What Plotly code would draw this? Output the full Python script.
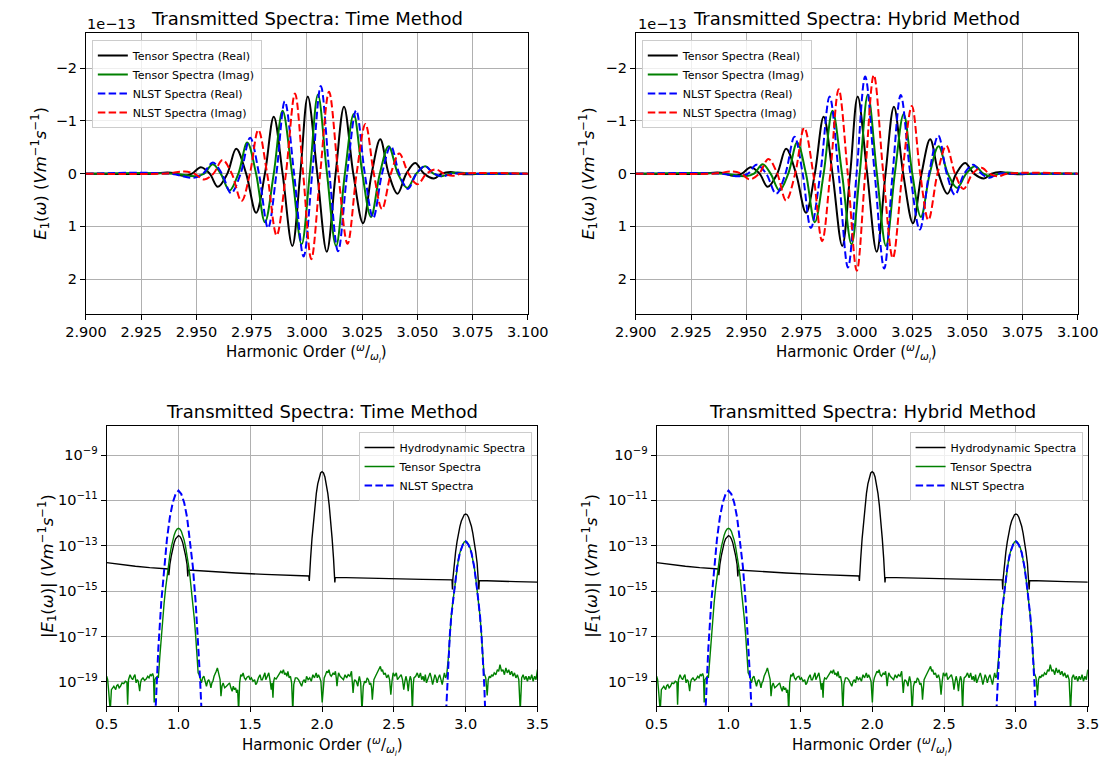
import plotly.graph_objects as go

# ---------------- Top panels: complex spectra near 3rd harmonic (units of 1e-13) -------------
OFFSET_TEXT = "1e\u221213"

tensor_re_x = [2.900, 2.930, 2.937, 2.9405, 2.944, 2.948, 2.952, 2.956, 2.9597, 2.964,
               2.968, 2.9725, 2.977, 2.981, 2.985, 2.989, 2.9934, 2.997, 3.0004, 3.0047,
               3.009, 3.013, 3.0168, 3.021, 3.0254, 3.0293, 3.0332, 3.037, 3.041, 3.045,
               3.049, 3.053, 3.0575, 3.061, 3.065, 3.069, 3.073, 3.080, 3.100]
tensor_re_y = [0, 0, -0.02, 0, 0.04, 0, -0.12, 0, 0.25, 0,
               -0.47, 0, 0.74, 0, -1.08, 0, 1.37, 0, -1.46, 0,
               1.48, 0, -1.27, 0, 0.94, 0, -0.65, 0, 0.38, 0,
               -0.20, 0, 0.09, 0, -0.03, 0, 0.01, 0, 0]

tensor_im_x = [2.900, 2.940, 2.9495, 2.9535, 2.9574, 2.961, 2.965, 2.969, 2.973, 2.977,
               2.981, 2.985, 2.989, 2.9933, 2.9976, 3.0013, 3.005, 3.0091, 3.0132, 3.0172,
               3.0212, 3.0251, 3.029, 3.033, 3.037, 3.0412, 3.0454, 3.0495, 3.0535, 3.0573,
               3.061, 3.0645, 3.068, 3.075, 3.100]
tensor_im_y = [0, 0, 0.05, 0, -0.18, 0, 0.32, 0, -0.59, 0,
               0.92, 0, -1.19, 0, 1.34, 0, -1.50, 0, 1.37, 0,
               -1.13, 0, 0.82, 0, -0.52, 0, 0.27, 0, -0.14, 0,
               0.05, 0, -0.02, 0, 0]

nlst_re_time_x = [2.900, 2.938, 2.9488, 2.953, 2.9574, 2.9615, 2.9657, 2.970, 2.9743, 2.9783,
                  2.9824, 2.9862, 2.990, 2.9942, 2.9985, 3.0024, 3.0063, 3.0102, 3.0141, 3.0182,
                  3.0223, 3.0262, 3.030, 3.034, 3.038, 3.0418, 3.0457, 3.0496, 3.0535, 3.0575,
                  3.0614, 3.066, 3.075, 3.100]
nlst_re_time_y = [0, 0, 0.08, 0, -0.21, 0, 0.37, 0, -0.68, 0,
                  1.03, 0, -1.37, 0, 1.57, 0, -1.66, 0, 1.47, 0,
                  -1.20, 0, 0.84, 0, -0.52, 0, 0.29, 0, -0.14, 0,
                  0.05, 0, 0, 0]

nlst_im_time_x = [2.900, 2.935, 2.9445, 2.949, 2.9535, 2.9577, 2.9618, 2.966, 2.9704, 2.9742,
                  2.978, 2.982, 2.9863, 2.9905, 2.9946, 2.9983, 3.002, 3.006, 3.010, 3.0142,
                  3.0184, 3.0225, 3.0265, 3.0303, 3.034, 3.038, 3.0418, 3.046, 3.050, 3.0542,
                  3.0583, 3.062, 3.066, 3.070, 3.100]
nlst_im_time_y = [0, 0, -0.04, 0, 0.11, 0, -0.26, 0, 0.52, 0,
                  -0.83, 0, 1.17, 0, -1.52, 0, 1.62, 0, -1.55, 0,
                  1.33, 0, -0.94, 0, 0.67, 0, -0.38, 0, 0.20, 0,
                  -0.08, 0, 0.04, 0, 0]

nlst_re_hyb_x = [2.900, 2.938, 2.9468, 2.9507, 2.9546, 2.959, 2.9635, 2.9677, 2.9718, 2.9755,
                 2.9792, 2.9835, 2.9877, 2.9918, 2.996, 2.9999, 3.0038, 3.0081, 3.0124, 3.0162,
                 3.0199, 3.0242, 3.0285, 3.0327, 3.0369, 3.0407, 3.0444, 3.0486, 3.0527, 3.0564,
                 3.060, 3.064, 3.072, 3.100]
nlst_re_hyb_y = [0, 0, 0.05, 0, -0.17, 0, 0.38, 0, -0.70, 0,
                 1.03, 0, -1.46, 0, 1.78, 0, -1.84, 0, 1.80, 0,
                 -1.49, 0, 1.06, 0, -0.72, 0, 0.40, 0, -0.17, 0,
                 0.08, 0, 0, 0]

nlst_im_hyb_x = [2.900, 2.935, 2.944, 2.9478, 2.9515, 2.9558, 2.960, 2.964, 2.968, 2.9721,
                 2.9762, 2.9803, 2.9843, 2.988, 2.9918, 2.9959, 3.000, 3.0038, 3.0077, 3.012,
                 3.0163, 3.0206, 3.0249, 3.0287, 3.0324, 3.0365, 3.0405, 3.0444, 3.0483, 3.0524,
                 3.0564, 3.060, 3.064, 3.068, 3.100]
nlst_im_hyb_y = [0, 0, -0.04, 0, 0.11, 0, -0.28, 0, 0.51, 0,
                 -0.87, 0, 1.28, 0, -1.60, 0, 1.84, 0, -1.87, 0,
                 1.60, 0, -1.28, 0, 0.88, 0, -0.53, 0, 0.29, 0,
                 -0.11, 0, 0.05, 0, 0]

# ---------------- Bottom panels: |E1| (log10 values) -----------------------------------------
hydro_x = [0.50, 0.60, 0.70, 0.80, 0.90, 0.931, 0.933, 0.935, 0.94, 0.95,
           0.96, 0.97, 0.98, 0.99, 1.00, 1.01, 1.02, 1.03, 1.04, 1.05,
           1.06, 1.063, 1.065, 1.068, 1.20, 1.40, 1.60, 1.80, 1.908, 1.911,
           1.913, 1.92, 1.93, 1.94, 1.95, 1.96, 1.97, 1.98, 1.99, 2.00,
           2.01, 2.02, 2.03, 2.04, 2.05, 2.06, 2.07, 2.08, 2.086, 2.089,
           2.092, 2.30, 2.50, 2.70, 2.905, 2.908, 2.911, 2.92, 2.93, 2.94,
           2.95, 2.96, 2.97, 2.98, 2.99, 3.00, 3.01, 3.02, 3.03, 3.04,
           3.05, 3.06, 3.07, 3.08, 3.089, 3.092, 3.095, 3.20, 3.35, 3.50]
hydro_log = [-13.74, -13.83, -13.90, -13.96, -14.00, -14.02, -14.30, -13.95, -13.83, -13.44,
             -13.12, -12.87, -12.69, -12.59, -12.55, -12.59, -12.69, -12.87, -13.12, -13.44,
             -13.83, -14.05, -14.35, -14.07, -14.13, -14.20, -14.26, -14.31, -14.33, -14.55,
             -14.20, -13.57, -12.67, -11.89, -11.23, -10.69, -10.27, -9.97, -9.79, -9.73,
             -9.79, -9.97, -10.27, -10.69, -11.23, -11.89, -12.67, -13.57, -14.30, -14.62,
             -14.39, -14.43, -14.46, -14.48, -14.50, -14.92, -14.45, -13.78, -13.27, -12.82,
             -12.45, -12.14, -11.91, -11.74, -11.63, -11.60, -11.63, -11.74, -11.91, -12.14,
             -12.45, -12.82, -13.27, -13.78, -14.50, -14.92, -14.53, -14.56, -14.58, -14.60]

tensor_abs = [
    (0.500, -18.75), (0.507, -18.90), (0.515, -19.48), (0.525, -20.30), (0.533, -19.34),
    (0.540, -19.26), (0.550, -19.19), (0.563, -19.34), (0.570, -19.16), (0.578, -19.12),
    (0.587, -19.26), (0.596, -19.19), (0.607, -19.04), (0.619, -19.07), (0.630, -18.97),
    (0.641, -19.01), (0.646, -20.00), (0.652, -18.90), (0.663, -18.68), (0.672, -18.82),
    (0.681, -18.90), (0.690, -18.75), (0.697, -18.68), (0.705, -19.04), (0.713, -18.90),
    (0.720, -18.97), (0.730, -19.41), (0.736, -19.04), (0.742, -18.90), (0.753, -18.82),
    (0.764, -18.93), (0.775, -18.87), (0.786, -18.75), (0.795, -18.82), (0.804, -18.68),
    (0.812, -18.72), (0.820, -18.63), (0.826, -18.75), (0.831, -19.90), (0.836, -18.90),
    (0.842, -18.82), (0.853, -18.75), (0.860, -18.82),
    (0.870, -17.90), (0.880, -16.98), (0.890, -16.20), (0.900, -15.53), (0.910, -14.90),
    (0.920, -14.34), (0.930, -13.85), (0.940, -13.42), (0.950, -13.06), (0.960, -12.76),
    (0.970, -12.53), (0.980, -12.36), (0.990, -12.26), (1.000, -12.23), (1.010, -12.26),
    (1.020, -12.36), (1.030, -12.53), (1.040, -12.76), (1.050, -13.06), (1.060, -13.42),
    (1.070, -13.85), (1.080, -14.34), (1.090, -14.90), (1.100, -15.53), (1.110, -16.20),
    (1.120, -16.98), (1.130, -17.90), (1.137, -18.60),
    (1.144, -18.68), (1.152, -18.90), (1.160, -19.04), (1.168, -18.82), (1.177, -18.75),
    (1.186, -18.97), (1.195, -19.19), (1.203, -18.97), (1.211, -18.90), (1.219, -19.04),
    (1.226, -19.26), (1.233, -19.04), (1.240, -18.97), (1.248, -18.75), (1.255, -18.60),
    (1.263, -18.53), (1.271, -18.38), (1.278, -18.53), (1.284, -18.68), (1.290, -18.90),
    (1.296, -19.63), (1.303, -19.19), (1.311, -19.04), (1.322, -19.26), (1.334, -19.19),
    (1.345, -19.12), (1.356, -19.04), (1.365, -19.26), (1.374, -19.41), (1.382, -19.19),
    (1.390, -19.34), (1.398, -19.26), (1.405, -19.48), (1.412, -19.34), (1.419, -20.30),
    (1.426, -19.04), (1.434, -18.68), (1.442, -18.75), (1.450, -18.60), (1.459, -18.82),
    (1.468, -18.90), (1.479, -18.78), (1.490, -18.75), (1.499, -18.90), (1.508, -18.82),
    (1.519, -18.97), (1.530, -18.90), (1.538, -19.12), (1.546, -19.04), (1.557, -18.82),
    (1.568, -18.68), (1.576, -18.90), (1.584, -18.90), (1.593, -18.75), (1.602, -18.60),
    (1.608, -18.90), (1.613, -18.82), (1.621, -18.72), (1.629, -18.60), (1.637, -18.90),
    (1.646, -19.34), (1.652, -19.04), (1.658, -19.70), (1.663, -18.97), (1.669, -18.82),
    (1.680, -18.87), (1.691, -18.75), (1.702, -18.68), (1.713, -18.53), (1.722, -18.60),
    (1.731, -18.46), (1.739, -18.68), (1.747, -18.60), (1.755, -18.75), (1.762, -18.53),
    (1.771, -18.82), (1.780, -18.75), (1.788, -19.04), (1.796, -20.30), (1.803, -19.12),
    (1.814, -18.82), (1.825, -18.82), (1.836, -18.90), (1.847, -19.04), (1.858, -19.19),
    (1.867, -18.97), (1.876, -18.90), (1.884, -19.04), (1.892, -18.75), (1.903, -18.90),
    (1.914, -18.82), (1.925, -18.97), (1.936, -18.68), (1.947, -18.82), (1.959, -18.60),
    (1.967, -18.82), (1.975, -18.68), (1.984, -18.82), (1.992, -18.97), (2.001, -19.90),
    (2.008, -19.04), (2.015, -18.82), (2.024, -18.68), (2.033, -18.53), (2.041, -18.60),
    (2.048, -18.46), (2.056, -18.68), (2.064, -18.75), (2.071, -18.68), (2.077, -18.60),
    (2.085, -18.68), (2.093, -18.53), (2.099, -18.82), (2.104, -19.19), (2.110, -18.82),
    (2.115, -18.60), (2.126, -18.75), (2.138, -18.82), (2.149, -18.90), (2.160, -18.68),
    (2.171, -18.82), (2.182, -18.68), (2.194, -18.75), (2.205, -18.53), (2.211, -18.90),
    (2.216, -19.48), (2.222, -19.04), (2.227, -18.90), (2.238, -18.97), (2.249, -19.19),
    (2.255, -18.90), (2.260, -18.75), (2.269, -19.04), (2.278, -20.30), (2.287, -19.19),
    (2.296, -18.97), (2.305, -19.04), (2.314, -18.82), (2.323, -18.90), (2.331, -19.12),
    (2.339, -19.04), (2.345, -19.26), (2.350, -19.78), (2.356, -19.19), (2.361, -18.90),
    (2.372, -18.75), (2.383, -18.60), (2.394, -18.46), (2.406, -18.31), (2.414, -18.53),
    (2.421, -18.46), (2.430, -18.68), (2.440, -18.60), (2.450, -18.82), (2.461, -18.68),
    (2.470, -18.90), (2.479, -19.56), (2.487, -18.97), (2.495, -18.60), (2.506, -18.75),
    (2.517, -18.60), (2.525, -18.90), (2.533, -18.82), (2.542, -18.75), (2.551, -18.68),
    (2.560, -18.90), (2.569, -19.34), (2.577, -18.97), (2.584, -18.75), (2.592, -18.97),
    (2.600, -19.41), (2.607, -18.97), (2.614, -18.75), (2.621, -18.90), (2.629, -20.30),
    (2.635, -19.12), (2.640, -18.82), (2.652, -18.75), (2.663, -18.60), (2.674, -18.82),
    (2.685, -18.60), (2.694, -18.90), (2.703, -18.75), (2.711, -18.97), (2.719, -18.68),
    (2.727, -19.04), (2.734, -18.90), (2.743, -18.75), (2.752, -18.60), (2.761, -18.82),
    (2.770, -19.12), (2.778, -18.90), (2.786, -18.68), (2.794, -18.82), (2.801, -19.04),
    (2.810, -18.82), (2.819, -18.68), (2.828, -18.90), (2.837, -19.12), (2.845, -18.82),
    (2.852, -18.60), (2.860, -18.82), (2.868, -18.70),
    (2.880, -17.90), (2.890, -16.90), (2.900, -16.10), (2.910, -15.50), (2.920, -14.95),
    (2.930, -14.42), (2.940, -13.95), (2.950, -13.58), (2.960, -13.30), (2.970, -13.08),
    (2.980, -12.95), (2.990, -12.83), (3.000, -12.80), (3.010, -12.83), (3.020, -12.95),
    (3.030, -13.08), (3.040, -13.30), (3.050, -13.58), (3.060, -13.95), (3.070, -14.42),
    (3.080, -14.95), (3.090, -15.50), (3.100, -16.10), (3.110, -16.90), (3.120, -17.90),
    (3.128, -18.70),
    (3.132, -18.68), (3.140, -18.82), (3.150, -19.60), (3.157, -18.90), (3.165, -18.75),
    (3.173, -18.82), (3.181, -18.68), (3.190, -18.75), (3.199, -18.60), (3.210, -18.68),
    (3.221, -18.46), (3.230, -18.53), (3.239, -18.24), (3.250, -18.53), (3.260, -18.46),
    (3.270, -18.68), (3.280, -18.38), (3.290, -18.60), (3.300, -18.46), (3.310, -18.68),
    (3.320, -18.53), (3.330, -18.75), (3.340, -18.60), (3.350, -18.82), (3.360, -18.68),
    (3.370, -18.90), (3.380, -20.30), (3.390, -18.82), (3.400, -18.68), (3.410, -18.90),
    (3.420, -18.75), (3.430, -18.97), (3.440, -18.75), (3.450, -18.90), (3.460, -18.68),
    (3.470, -18.97), (3.480, -18.75), (3.490, -18.90), (3.500, -18.46),
]

nlst_abs_peak1 = [
    (0.835, -21.0), (0.840, -20.2), (0.850, -18.8), (0.860, -17.5), (0.880, -15.5),
    (0.900, -13.9), (0.920, -12.7), (0.940, -11.75), (0.960, -11.1), (0.980, -10.72),
    (1.000, -10.57), (1.020, -10.72), (1.040, -11.1), (1.060, -11.75), (1.080, -12.7),
    (1.100, -13.9), (1.120, -15.5), (1.140, -17.5), (1.150, -18.8), (1.160, -20.2),
    (1.165, -21.0),
]
nlst_abs_peak3 = [
    (2.860, -20.8), (2.865, -20.1), (2.870, -19.2), (2.880, -17.9), (2.890, -16.9),
    (2.900, -16.1), (2.910, -15.5), (2.920, -14.95), (2.940, -13.95), (2.960, -13.3),
    (2.980, -12.95), (3.000, -12.8), (3.020, -12.95), (3.040, -13.3), (3.060, -13.95),
    (3.080, -14.95), (3.090, -15.5), (3.100, -16.1), (3.110, -16.9), (3.120, -17.9),
    (3.130, -19.2), (3.135, -20.1), (3.140, -20.8),
]

top_xticks = [2.900, 2.925, 2.950, 2.975, 3.000, 3.025, 3.050, 3.075, 3.100]
top_yticks = [-2, -1, 0, 1, 2]
bot_xticks = [0.5, 1.0, 1.5, 2.0, 2.5, 3.0, 3.5]
bot_ytick_exp = [-9, -11, -13, -15, -17, -19]

# ---------------------------------------------------------------------------------------------
W, H = 1119, 757
FONT = "DejaVu Sans"


def fx(px):
    return px / W


def fy(py):
    return 1 - py / H


boxes = {
    1: dict(x=(67.5, 526.6), y=(33.3, 314.0)),
    2: dict(x=(638.8, 1098.0), y=(33.3, 314.0)),
    3: dict(x=(89.0, 536.6), y=(426.0, 706.0)),
    4: dict(x=(660.4, 1108.4), y=(426.0, 706.0)),
}

BLACK, GREEN, BLUE, RED = "#000000", "#008000", "#0000ff", "#ff0000"
DASH = "7.5px,3.3px"

fig = go.Figure()


def unzip(pairs):
    return [p[0] for p in pairs], [10 ** p[1] for p in pairs]


# top panels
for idx, (nre_x, nre_y, nim_x, nim_y) in zip(
        [1, 2],
        [(nlst_re_time_x, nlst_re_time_y, nlst_im_time_x, nlst_im_time_y),
         (nlst_re_hyb_x, nlst_re_hyb_y, nlst_im_hyb_x, nlst_im_hyb_y)]):
    ax = "" if idx == 1 else str(idx)
    lg = "legend" if idx == 1 else "legend%d" % idx
    common = dict(xaxis="x" + ax, yaxis="y" + ax, mode="lines", legend=lg)
    fig.add_trace(go.Scatter(x=tensor_re_x, y=tensor_re_y, name="Tensor Spectra (Real)",
                             line=dict(color=BLACK, width=2, shape="spline", smoothing=1.0), **common))
    fig.add_trace(go.Scatter(x=tensor_im_x, y=tensor_im_y, name="Tensor Spectra (Imag)",
                             line=dict(color=GREEN, width=2, shape="spline", smoothing=1.0), **common))
    fig.add_trace(go.Scatter(x=nre_x, y=nre_y, name="NLST Spectra (Real)",
                             line=dict(color=BLUE, width=2, dash=DASH, shape="spline", smoothing=1.0), **common))
    fig.add_trace(go.Scatter(x=nim_x, y=nim_y, name="NLST Spectra (Imag)",
                             line=dict(color=RED, width=2, dash=DASH, shape="spline", smoothing=1.0), **common))

# bottom panels
tx, ty = unzip(tensor_abs)
b1x, b1y = unzip(nlst_abs_peak1)
b3x, b3y = unzip(nlst_abs_peak3)
nlst_x = b1x + [None] + b3x
nlst_y = b1y + [None] + b3y
hydro_y = [10 ** v for v in hydro_log]

for idx in [3, 4]:
    common = dict(xaxis="x%d" % idx, yaxis="y%d" % idx, mode="lines", legend="legend%d" % idx)
    fig.add_trace(go.Scatter(x=hydro_x, y=hydro_y, name="Hydrodynamic Spectra",
                             line=dict(color=BLACK, width=1.4), **common))
    fig.add_trace(go.Scatter(x=tx, y=ty, name="Tensor Spectra",
                             line=dict(color=GREEN, width=1.4), **common))
    fig.add_trace(go.Scatter(x=nlst_x, y=nlst_y, name="NLST Spectra", connectgaps=False,
                             line=dict(color=BLUE, width=2, dash=DASH), **common))

axis_common = dict(showline=True, linecolor="black", linewidth=1, mirror=True,
                   ticks="outside", ticklen=5, tickwidth=1, tickcolor="black",
                   showgrid=True, gridcolor="#b0b0b0", gridwidth=1, zeroline=False,
                   tickfont=dict(family=FONT, size=14.5, color="black"))

layout = dict(
    width=W, height=H, margin=dict(l=0, r=0, t=0, b=0),
    paper_bgcolor="white", plot_bgcolor="white",
    font=dict(family=FONT, color="black"),
    showlegend=True,
)

for idx, b in boxes.items():
    ax = "" if idx == 1 else str(idx)
    xa = dict(axis_common, domain=[fx(b["x"][0]), fx(b["x"][1])], anchor="y" + ax)
    ya = dict(axis_common, domain=[fy(b["y"][1]), fy(b["y"][0])], anchor="x" + ax)
    if idx in (1, 2):
        xa.update(range=[2.9, 3.1], tickvals=top_xticks,
                  ticktext=["%.3f" % v for v in top_xticks])
        ya.update(range=[2.66, -2.66], tickvals=top_yticks,
                  ticktext=[("\u2212%d" % -v) if v < 0 else "%d" % v for v in top_yticks])
    else:
        xa.update(range=[0.5, 3.5], tickvals=bot_xticks,
                  ticktext=["%.1f" % v for v in bot_xticks])
        ya.update(type="log", range=[-20.06, -7.72],
                  tickvals=[10.0 ** e for e in bot_ytick_exp],
                  ticktext=["10<sup>\u2212%d</sup>" % -e for e in bot_ytick_exp])
    layout["xaxis" + ax] = xa
    layout["yaxis" + ax] = ya

leg_common = dict(bgcolor="rgba(255,255,255,0.8)", bordercolor="#cccccc", borderwidth=1,
                  font=dict(family=FONT, size=11, color="black"), itemwidth=30,
                  tracegroupgap=0, yanchor="top")
layout["legend"] = dict(leg_common, x=fx(73.6), y=fy(40), xanchor="left")
layout["legend2"] = dict(leg_common, x=fx(645), y=fy(40), xanchor="left")
layout["legend3"] = dict(leg_common, x=fx(530.5), y=fy(432), xanchor="right")
layout["legend4"] = dict(leg_common, x=fx(1103), y=fy(432), xanchor="right")

fig.update_layout(**layout)

ylab_top = "<i>E</i><sub>1</sub>(<i>\u03c9</i>) (<i>Vm</i><sup>\u22121</sup><i>s</i><sup>\u22121</sup>)"
ylab_bot = "|<i>E</i><sub>1</sub>(<i>\u03c9</i>)| (<i>Vm</i><sup>\u22121</sup><i>s</i><sup>\u22121</sup>)"
xlab = "Harmonic Order (<sup><i>\u03c9</i></sup>/<sub><i>\u03c9<sub>l</sub></i></sub>)"

annots = [
    # titles
    (297.0, 19.0, "Transmitted Spectra: Time Method", 18, 0),
    (868.4, 19.0, "Transmitted Spectra: Hybrid Method", 18, 0),
    (312.8, 411.7, "Transmitted Spectra: Time Method", 18, 0),
    (884.4, 411.7, "Transmitted Spectra: Hybrid Method", 18, 0),
    # x labels
    (297.0, 353.0, xlab, 15, 0),
    (868.4, 353.0, xlab, 15, 0),
    (312.8, 746.0, xlab, 15, 0),
    (884.4, 746.0, xlab, 15, 0),
    # y labels
    (20.0, 173.5, ylab_top, 16.5, -90),
    (589.5, 173.5, ylab_top, 16.5, -90),
    (27.0, 566.0, ylab_bot, 16.5, -90),
    (592.0, 566.0, ylab_bot, 16.5, -90),
]
for (px, py, txt, sz, ang) in annots:
    fig.add_annotation(x=fx(px), y=fy(py), xref="paper", yref="paper", text=txt,
                       showarrow=False, textangle=ang, xanchor="center", yanchor="middle",
                       font=dict(family=FONT, size=sz, color="black"))

# offset text of the linear axes
for px in (66.5, 638.5):
    fig.add_annotation(x=fx(px), y=fy(24.0), xref="paper", yref="paper", text=OFFSET_TEXT,
                       showarrow=False, xanchor="left", yanchor="middle",
                       font=dict(family=FONT, size=14.5, color="black"))

fig.write_html("out.html")
